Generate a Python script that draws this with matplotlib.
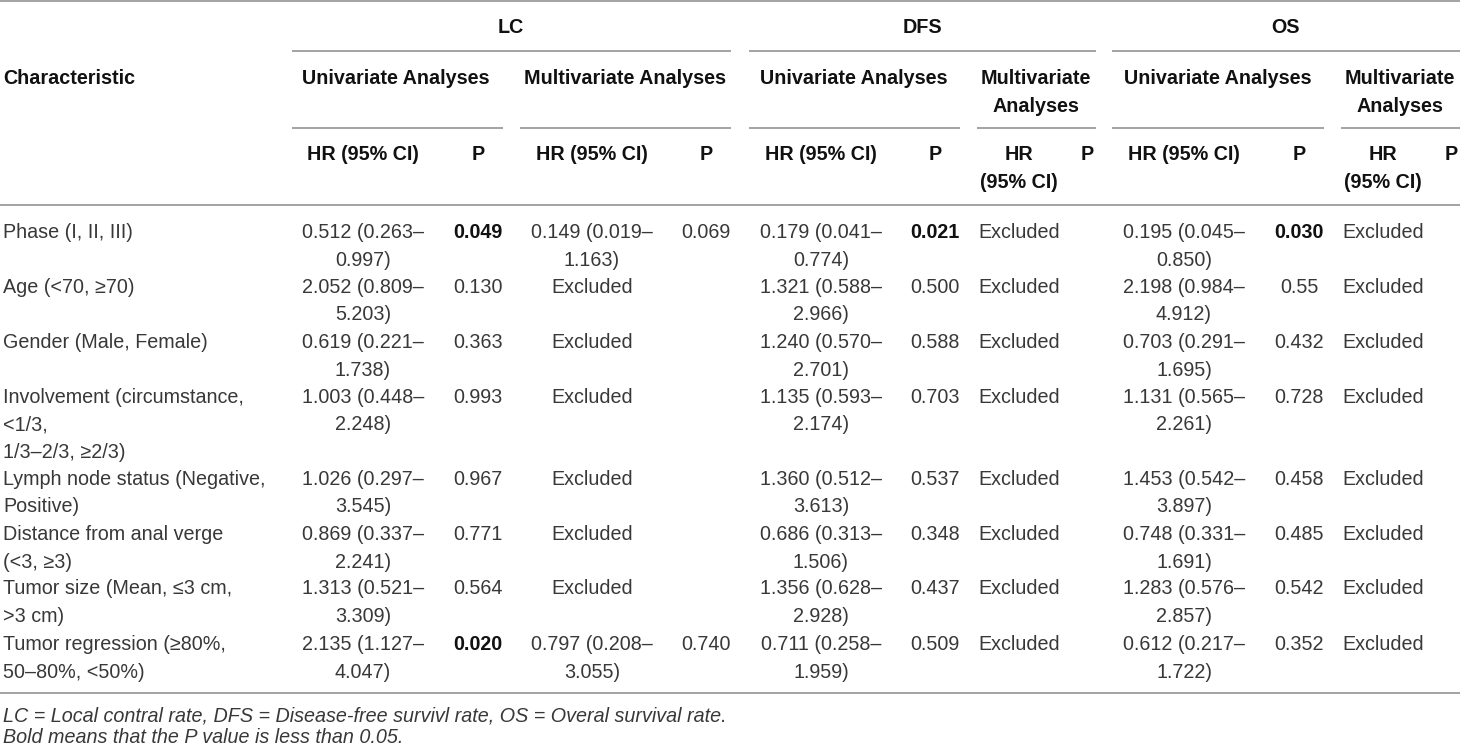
import matplotlib

matplotlib.use("Agg")
import matplotlib.pyplot as plt

plt.rcParams["font.family"] = ["Liberation Sans", "DejaVu Sans"]

# ---------------------------------------------------------------------------
# Datos de la tabla
# ---------------------------------------------------------------------------
caracteristicas = [
    "Phase (I, II, III)",
    "Age (<70, ≥70)",
    "Gender (Male, Female)",
    "Involvement (circumstance,\n<1/3,\n1/3–2/3, ≥2/3)",
    "Lymph node status (Negative,\nPositive)",
    "Distance from anal verge\n(<3, ≥3)",
    "Tumor size (Mean, ≤3 cm,\n>3 cm)",
    "Tumor regression (≥80%,\n50–80%, <50%)",
]

lc_uni_hr = [
    "0.512 (0.263–\n0.997)", "2.052 (0.809–\n5.203)", "0.619 (0.221–\n1.738)",
    "1.003 (0.448–\n2.248)", "1.026 (0.297–\n3.545)", "0.869 (0.337–\n2.241)",
    "1.313 (0.521–\n3.309)", "2.135 (1.127–\n4.047)",
]
lc_uni_p = ["0.049", "0.130", "0.363", "0.993", "0.967", "0.771", "0.564", "0.020"]
lc_multi_hr = [
    "0.149 (0.019–\n1.163)", "Excluded", "Excluded", "Excluded",
    "Excluded", "Excluded", "Excluded", "0.797 (0.208–\n3.055)",
]
lc_multi_p = ["0.069", "", "", "", "", "", "", "0.740"]

dfs_uni_hr = [
    "0.179 (0.041–\n0.774)", "1.321 (0.588–\n2.966)", "1.240 (0.570–\n2.701)",
    "1.135 (0.593–\n2.174)", "1.360 (0.512–\n3.613)", "0.686 (0.313–\n1.506)",
    "1.356 (0.628–\n2.928)", "0.711 (0.258–\n1.959)",
]
dfs_uni_p = ["0.021", "0.500", "0.588", "0.703", "0.537", "0.348", "0.437", "0.509"]
dfs_multi_hr = ["Excluded"] * 8
dfs_multi_p = [""] * 8

os_uni_hr = [
    "0.195 (0.045–\n0.850)", "2.198 (0.984–\n4.912)", "0.703 (0.291–\n1.695)",
    "1.131 (0.565–\n2.261)", "1.453 (0.542–\n3.897)", "0.748 (0.331–\n1.691)",
    "1.283 (0.576–\n2.857)", "0.612 (0.217–\n1.722)",
]
os_uni_p = ["0.030", "0.55", "0.432", "0.728", "0.458", "0.485", "0.542", "0.352"]
os_multi_hr = ["Excluded"] * 8
os_multi_p = [""] * 8

# P < 0.05 en negrita
UMBRAL_P = 0.05

notas = [
    "LC = Local contral rate, DFS = Disease-free survivl rate, OS = Overal survival rate.",
    "Bold means that the P value is less than 0.05.",
]

# ---------------------------------------------------------------------------
# Geometría (en píxeles de la imagen)
# ---------------------------------------------------------------------------
ANCHO, ALTO = 1460, 747
TAM = 14.2
INTERLINEA = 27.5
COLOR_TEXTO = "#383838"
COLOR_NEGRITA = "#111111"
COLOR_LINEA = "#9c9c9c"

columnas = [
    (lc_uni_hr, 363), (lc_uni_p, 478), (lc_multi_hr, 592), (lc_multi_p, 706),
    (dfs_uni_hr, 821), (dfs_uni_p, 935), (dfs_multi_hr, 1019), (dfs_multi_p, 1087),
    (os_uni_hr, 1184), (os_uni_p, 1299), (os_multi_hr, 1383), (os_multi_p, 1451),
]
y_filas = [231, 286, 341, 396, 478, 533, 587, 643]

fig = plt.figure(figsize=(ANCHO / 100, ALTO / 100), dpi=100)
ax = fig.add_axes([0, 0, 1, 1])
ax.set_xlim(0, ANCHO)
ax.set_ylim(ALTO, 0)
ax.axis("off")


def texto(x, y, s, ha="center", bold=False, italic=False):
    # y = centro de la primera línea; cada renglón se dibuja por separado
    for i, linea in enumerate(s.split("\n")):
        ax.text(
            x, y + 7 + i * INTERLINEA, linea, ha=ha, va="baseline", fontsize=TAM,
            fontweight="bold" if bold else "normal",
            fontstyle="italic" if italic else "normal",
            color=COLOR_NEGRITA if bold else COLOR_TEXTO,
        )


def linea(x0, x1, y):
    ax.plot([x0, x1], [y, y], color=COLOR_LINEA, linewidth=1.3, solid_capstyle="butt")


# --- líneas horizontales ---
linea(0, ANCHO, 1)
for x0, x1 in [(292, 731), (749, 1096), (1112, 1460)]:
    linea(x0, x1, 51)
for x0, x1 in [(292, 503), (520, 731), (749, 960), (977, 1096), (1112, 1324), (1341, 1460)]:
    linea(x0, x1, 128)
linea(0, ANCHO, 205)
linea(0, ANCHO, 693)

# --- encabezados ---
for nombre, x in [("LC", 511), ("DFS", 922), ("OS", 1286)]:
    texto(x, 26, nombre, bold=True)
texto(3, 77, "Characteristic", ha="left", bold=True)
for nombre, x in [
    ("Univariate Analyses", 396), ("Multivariate Analyses", 625),
    ("Univariate Analyses", 854), ("Multivariate\nAnalyses", 1036),
    ("Univariate Analyses", 1218), ("Multivariate\nAnalyses", 1400),
]:
    texto(x, 77, nombre, bold=True)
for nombre, x in [
    ("HR (95% CI)", 363), ("P", 478), ("HR (95% CI)", 592), ("P", 706),
    ("HR (95% CI)", 821), ("P", 935), ("HR\n(95% CI)", 1019), ("P", 1087),
    ("HR (95% CI)", 1184), ("P", 1299), ("HR\n(95% CI)", 1383), ("P", 1451),
]:
    texto(x, 153, nombre, bold=True)

# --- filas de datos ---
for i, y in enumerate(y_filas):
    texto(3, y, caracteristicas[i], ha="left")
    for valores, x in columnas:
        valor = valores[i]
        if not valor:
            continue
        es_p = valores in (lc_uni_p, lc_multi_p, dfs_uni_p, os_uni_p)
        negrita = es_p and float(valor) < UMBRAL_P
        texto(x, y, valor, bold=negrita)

# --- notas al pie ---
texto(3, 714, notas[0], ha="left", italic=True)
texto(3, 736, notas[1], ha="left", italic=True)

fig.savefig("out.png", dpi=100)
